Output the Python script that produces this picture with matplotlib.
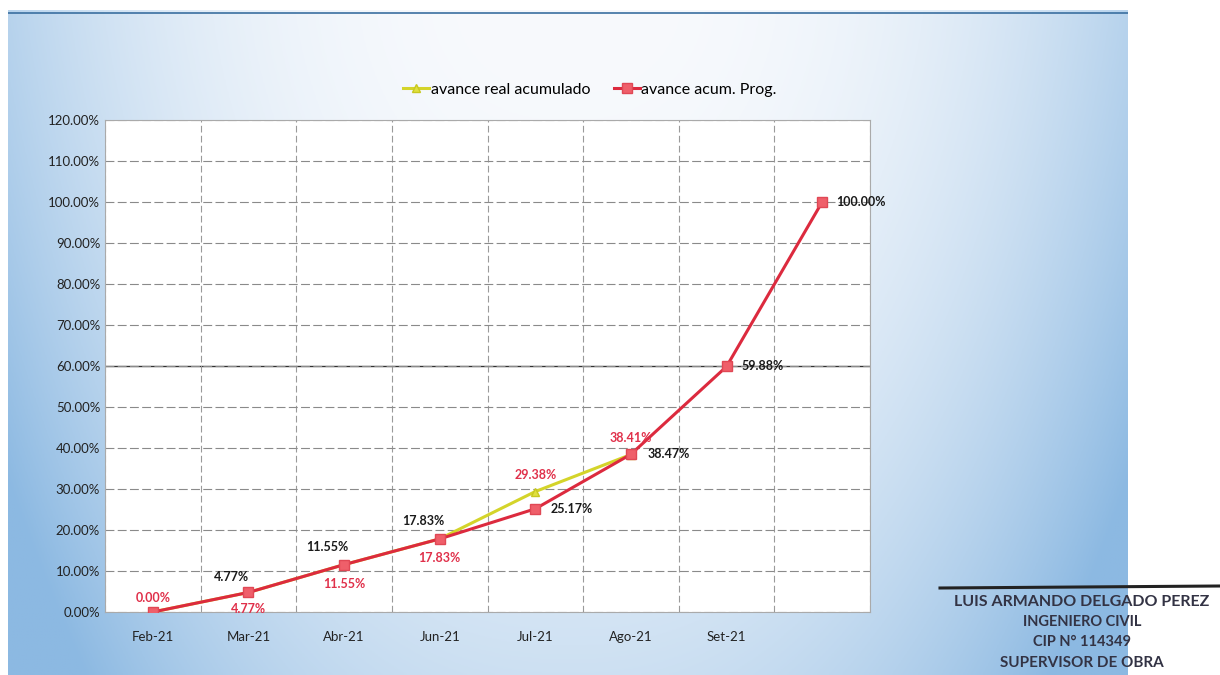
import numpy as np
import matplotlib
matplotlib.use("Agg")
import matplotlib.pyplot as plt
from matplotlib.ticker import FuncFormatter

plt.rcParams['font.family'] = ['Lato', 'DejaVu Sans']

categories = ["Feb-21", "Mar-21", "Abr-21", "Jun-21", "Jul-21", "Ago-21", "Set-21", ""]
real_acum = [0.00, 4.77, 11.55, 17.83, 29.38, 38.41]
prog_acum = [0.00, 4.77, 11.55, 17.83, 25.17, 38.47, 59.88, 100.00]
y_ticks = [0, 10, 20, 30, 40, 50, 60, 70, 80, 90, 100, 110, 120]

# label placement (offsets in points)
real_offsets = [(0, 10), (0, -12), (0, -14), (0, -14), (0, 12), (0, 12)]
prog_offsets = [None, (-12, 11), (-12, 13), (-12, 13), (26, 0), (27, 0), (26, 0), (28, 0)]

fig = plt.figure(figsize=(12.2, 6.75), dpi=100)
fig.patch.set_facecolor("white")

# background gradient panel
bg = fig.add_axes([8/1220, 0, 1120/1220, 665/675])
bg.set_axis_off()
w, h = 400, 220
xx = np.linspace(-1, 1, w)
yy = np.linspace(0, 1, h)
X, Y = np.meshgrid(xx, yy)
t = np.clip(0.6 * np.abs(X) ** 2.6 + 0.4 * Y ** 1.8 + 0.25 * np.abs(X) ** 2 * Y, 0, 1)
light = np.array([248, 250, 253]) / 255
blue = np.array([140, 185, 226]) / 255
img = light[None, None, :] * (1 - t[..., None]) + blue[None, None, :] * t[..., None]
bg.imshow(img, aspect="auto", extent=[0, 1, 0, 1], origin="upper")
bg.set_xlim(0, 1); bg.set_ylim(0, 1)
bg.plot([0, 1], [0.995, 0.995], color="#3a6fa0", lw=1.2)

ax = fig.add_axes([105/1220, 63/675, 765/1220, 492/675])
ax.set_facecolor("white")
x = np.arange(len(categories))
ax.set_xlim(-0.5, len(categories) - 0.5)
ax.set_ylim(0, 120)
ax.set_yticks(y_ticks)
ax.yaxis.set_major_formatter(FuncFormatter(lambda v, p: f"{v:.2f}%"))
ax.set_xticks(x)
ax.set_xticklabels(categories)
ax.set_xticks(np.arange(-0.5, len(categories), 1), minor=True)
ax.tick_params(axis="both", which="both", length=0, labelsize=9.5)
ax.tick_params(axis="x", pad=14)
for lab in ax.get_yticklabels() + ax.get_xticklabels():
    lab.set_color("#222222")
ax.grid(True, axis="y", which="major", color="#8a8a8a", lw=0.8, ls=(0, (8, 3)))
ax.grid(True, axis="x", which="minor", color="#9a9a9a", lw=0.8, ls=(0, (6, 3)))
ax.axhline(60, color="#333333", lw=1.0, zorder=1)
for s in ax.spines.values():
    s.set_color("#aaaaaa")
    s.set_linewidth(0.8)

l1, = ax.plot(x[:len(real_acum)], real_acum, color="#d4d42a", lw=2.2, marker="^",
              markersize=6, markerfacecolor="#e0e040", markeredgecolor="#c8c820",
              label="avance real acumulado", zorder=3)
l2, = ax.plot(x, prog_acum, color="#dc2a3e", lw=2.2, marker="s", markersize=7,
              markerfacecolor="#ef5f6a", markeredgecolor="#e04855",
              label="avance acum. Prog.", zorder=4)

for i, v in enumerate(real_acum):
    ax.annotate(f"{v:.2f}%", (x[i], v), xytext=real_offsets[i], textcoords="offset points",
                ha="center", va="center", fontsize=9, fontweight="bold", color="#e0304a",
                zorder=5)
for i, v in enumerate(prog_acum):
    off = prog_offsets[i]
    if off is None:
        continue
    ax.annotate(f"{v:.2f}%", (x[i], v), xytext=off, textcoords="offset points",
                ha="center", va="center", fontsize=9, fontweight="bold", color="#1a1a1a",
                zorder=5)

fig.legend(handles=[l1, l2], loc="center", bbox_to_anchor=(590/1220, 1 - 90/675),
           ncol=2, frameon=False, fontsize=11.5, handlelength=1.6, handletextpad=0.1,
           columnspacing=1.5)

# signature stamp text
fig.add_artist(plt.Line2D([940/1220, 1220/1220], [1 - 588/675, 1 - 586/675],
                          color="#222222", lw=2.2))
stamp = ["LUIS ARMANDO DELGADO PEREZ", "INGENIERO CIVIL", "CIP N° 114349", "SUPERVISOR DE OBRA"]
stamp_y = [602, 622, 642, 663]
stamp_size = [11.5, 10.5, 10.5, 11]
for s, yy_, fs in zip(stamp, stamp_y, stamp_size):
    fig.text(1082/1220, 1 - yy_/675, s, ha="center", va="center", fontsize=fs,
             fontweight="bold", color="#333344")

fig.savefig("out.png", dpi=100)
